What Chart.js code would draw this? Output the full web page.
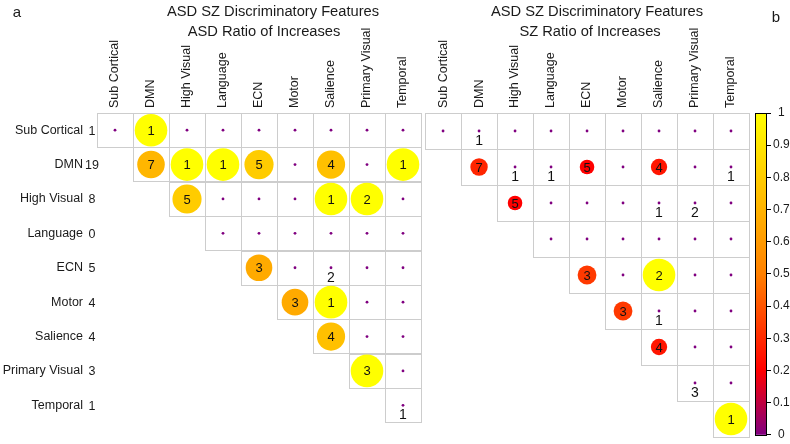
<!DOCTYPE html>
<html><head><meta charset="utf-8">
<script src="https://cdn.jsdelivr.net/npm/chart.js@4/dist/chart.umd.min.js"></script>
<style>
html,body{margin:0;padding:0;background:#fff;}
#wrap{position:relative;width:790px;height:444px;overflow:hidden;background:#fff;}
canvas{position:absolute;top:0;}
</style></head><body>
<div id="wrap">
<canvas id="asd" width="423" height="444" style="left:0px"></canvas>
<canvas id="sz" width="330" height="444" style="left:423px"></canvas>
<canvas id="cbar" width="37" height="444" style="left:753px"></canvas>
</div>
<script>
// ---------- data ----------
const networks = ['Sub Cortical','DMN','High Visual','Language','ECN','Motor','Salience','Primary Visual','Temporal'];
const rowTotals = [1, 19, 8, 0, 5, 4, 4, 3, 1];
const cellRows = ['Sub Cortical','DMN','DMN','DMN','DMN','DMN','DMN','High Visual','High Visual','High Visual','ECN','ECN','Motor','Motor','Salience','Primary Visual','Temporal'];
const cellCols = ['DMN','DMN','High Visual','Language','ECN','Salience','Temporal','High Visual','Salience','Primary Visual','ECN','Salience','Motor','Salience','Salience','Primary Visual','Temporal'];
const featureCounts = [1, 7, 1, 1, 5, 4, 1, 5, 1, 2, 3, 2, 3, 1, 4, 3, 1];
const asdRatio = [1, 0.714, 1, 1, 0.8, 0.75, 1, 0.8, 1, 1, 0.667, 0, 0.667, 1, 0.75, 1, 0];
const szRatio  = [0, 0.286, 0, 0, 0.2, 0.25, 0, 0.2, 0, 0, 0.333, 1, 0.333, 0, 0.25, 0, 1];
const colorbarTicks = [0, 0.1, 0.2, 0.3, 0.4, 0.5, 0.6, 0.7, 0.8, 0.9, 1];

// ---------- style ----------
const FONT = "'Liberation Sans', Arial, Helvetica, sans-serif";
Chart.defaults.font.family = FONT;
Chart.defaults.color = '#1a1a1a';
const cmapStops = [[0,[128,0,128]],[0.2,[255,0,0]],[0.5,[255,128,0]],[1,[255,255,0]]];
function cmap(v){
  v = Math.max(0, Math.min(1, v));
  for (let i = 1; i < cmapStops.length; i++) {
    const [p1,c1] = cmapStops[i-1], [p2,c2] = cmapStops[i];
    if (v <= p2) {
      const t = (v - p1) / (p2 - p1);
      const c = c1.map((a,k)=>Math.round(a + (c2[k]-a)*t));
      return `rgb(${c[0]},${c[1]},${c[2]})`;
    }
  }
  return 'rgb(255,255,0)';
}
const MAX_R = 16.3;

function cellData(ratios){
  return cellRows.map((r,i)=>({x: cellCols[i], y: r, n: featureCounts[i], v: ratios[i]}));
}
function triangleDots(){
  const pts = [];
  networks.forEach((r,ri)=>networks.forEach((c,ci)=>{ if (ci >= ri) pts.push({x:c, y:r}); }));
  return pts;
}

const cellsPlugin = {
  id: 'cells',
  beforeDatasetsDraw(chart){
    const {ctx, scales:{x,y}} = chart;
    const hw = Math.abs(x.getPixelForValue(1) - x.getPixelForValue(0)) / 2;
    const hh = Math.abs(y.getPixelForValue(1) - y.getPixelForValue(0)) / 2;
    ctx.save();
    ctx.strokeStyle = '#cdcdcd';
    ctx.lineWidth = 1;
    networks.forEach((r,ri)=>networks.forEach((c,ci)=>{
      if (ci < ri) return;
      const px = x.getPixelForValue(ci), py = y.getPixelForValue(ri);
      ctx.strokeRect(Math.round(px-hw)+0.5, Math.round(py-hh)+0.5, Math.round(2*hw), Math.round(2*hh));
    }));
    ctx.restore();
  }
};

const numbersPlugin = {
  id: 'numbers',
  afterDatasetsDraw(chart){
    const {ctx} = chart;
    const meta = chart.getDatasetMeta(0);
    const data = chart.data.datasets[0].data;
    ctx.save();
    ctx.fillStyle = '#111';
    ctx.textAlign = 'center';
    ctx.textBaseline = 'middle';
    meta.data.forEach((el,i)=>{
      const d = data[i];
      if (d.v > 0) {
        ctx.font = `13px ${FONT}`;
        ctx.fillText(String(d.n), el.x, el.y + 1);
      } else {
        ctx.font = `14px ${FONT}`;
        ctx.fillText(String(d.n), el.x, el.y + 10);
      }
    });
    ctx.restore();
  }
};

function titlePlugin(line1, line2, dx1, dx2, panelLetter, showTotals){
  return {
    id: 'titles',
    afterDraw(chart){
      const {ctx, chartArea, scales:{y}} = chart;
      const cx = (chartArea.left + chartArea.right) / 2;
      ctx.save();
      ctx.fillStyle = '#1a1a1a';
      ctx.textAlign = 'center';
      ctx.textBaseline = 'middle';
      ctx.font = `14.7px ${FONT}`;
      ctx.fillText(line1, cx + dx1, 12);
      ctx.fillText(line2, cx + dx2, 32);
      if (panelLetter) {
        ctx.font = `15px ${FONT}`;
        ctx.fillText(panelLetter, 17, 13);
      }
      if (showTotals) {
        ctx.font = `12.5px ${FONT}`;
        ctx.textAlign = 'center';
        networks.forEach((n,i)=>{
          ctx.fillText(String(rowTotals[i]), chartArea.left - 5, y.getPixelForValue(i) + 1);
        });
      }
      ctx.restore();
    }
  };
}

function makePanel(id, ratios, subtitle, showRowLabels, letter){
  const yScale = {
    type: 'category', labels: networks, offset: true, display: showRowLabels,
    grid: {display: false, drawTicks: false}, border: {display: false},
    ticks: {autoSkip: false, padding: 14, color: '#1a1a1a', font: {size: 12.5}}
  };
  if (showRowLabels) yScale.afterFit = s => { s.width = 97; };
  return new Chart(document.getElementById(id), {
    type: 'scatter',
    data: {
      labels: networks,
      datasets: [
        {
          data: cellData(ratios),
          pointRadius: c => (c.raw && c.raw.v > 0) ? MAX_R * Math.sqrt(c.raw.v) : 0,
          pointBackgroundColor: c => c.raw ? cmap(c.raw.v) : '#000',
          pointBorderWidth: 0,
          pointBorderColor: 'rgba(0,0,0,0)'
        },
        {
          data: triangleDots(),
          pointRadius: 1.4,
          pointBackgroundColor: cmap(0),
          pointBorderWidth: 0
        }
      ]
    },
    options: {
      responsive: false,
      animation: false,
      events: [],
      layout: {autoPadding: false, padding: {top: 26, bottom: 7, left: showRowLabels ? 0 : 1, right: showRowLabels ? 2 : 4}},
      plugins: {legend: {display: false}, tooltip: {enabled: false}, title: {display: false}},
      scales: {
        x: {
          type: 'category', labels: networks, position: 'top', offset: true,
          grid: {display: false, drawTicks: false}, border: {display: false},
          ticks: {autoSkip: false, maxRotation: 90, minRotation: 90, padding: 5, labelOffset: 15,
                  color: '#1a1a1a', font: {size: 12.5}},
          afterFit: s => { s.height = 87; }
        },
        y: yScale
      }
    },
    plugins: [cellsPlugin, numbersPlugin,
      titlePlugin('ASD SZ Discriminatory Features', subtitle, showRowLabels ? 14 : 10, showRowLabels ? 5 : 3, letter, showRowLabels)]
  });
}

makePanel('asd', asdRatio, 'ASD Ratio of Increases', true, 'a');
makePanel('sz', szRatio, 'SZ Ratio of Increases', false, null);

// ---------- colorbar ----------
const cbarPlugin = {
  id: 'cbar',
  beforeDatasetsDraw(chart){
    const {ctx, chartArea:a} = chart;
    const g = ctx.createLinearGradient(0, a.bottom, 0, a.top);
    cmapStops.forEach(([p,c]) => g.addColorStop(p, `rgb(${c[0]},${c[1]},${c[2]})`));
    ctx.save();
    ctx.fillStyle = g;
    ctx.fillRect(a.left, a.top, a.right - a.left, a.bottom - a.top);
    ctx.strokeStyle = '#000';
    ctx.lineWidth = 1;
    ctx.strokeRect(Math.round(a.left)+0.5, Math.round(a.top)+0.5, Math.round(a.right-a.left)-1, Math.round(a.bottom-a.top));
    ctx.restore();
  },
  afterDraw(chart){
    const {ctx} = chart;
    ctx.save();
    ctx.fillStyle = '#1a1a1a';
    ctx.font = `15px ${FONT}`;
    ctx.textAlign = 'center';
    ctx.textBaseline = 'middle';
    ctx.fillText('b', 23, 18);
    ctx.restore();
  }
};
new Chart(document.getElementById('cbar'), {
  type: 'scatter',
  data: {datasets: [{data: []}]},
  options: {
    responsive: false, animation: false, events: [],
    layout: {autoPadding: false, padding: {top: 113, bottom: 7, left: 2, right: 0}},
    plugins: {legend: {display: false}, tooltip: {enabled: false}},
    scales: {
      x: {display: false},
      y: {
        position: 'right', min: 0, max: 1,
        afterBuildTicks: s => { s.ticks = colorbarTicks.map(v => ({value: v})); },
        ticks: {padding: 2, crossAlign: 'center', color: '#1a1a1a', font: {size: 12},
                callback: v => String(Math.round(v*10)/10)},
        grid: {drawOnChartArea: false, drawTicks: true, tickLength: 4, color: '#000'},
        border: {display: false},
        afterFit: s => { s.width = 23; }
      }
    }
  },
  plugins: [cbarPlugin]
});
</script>
</body></html>
